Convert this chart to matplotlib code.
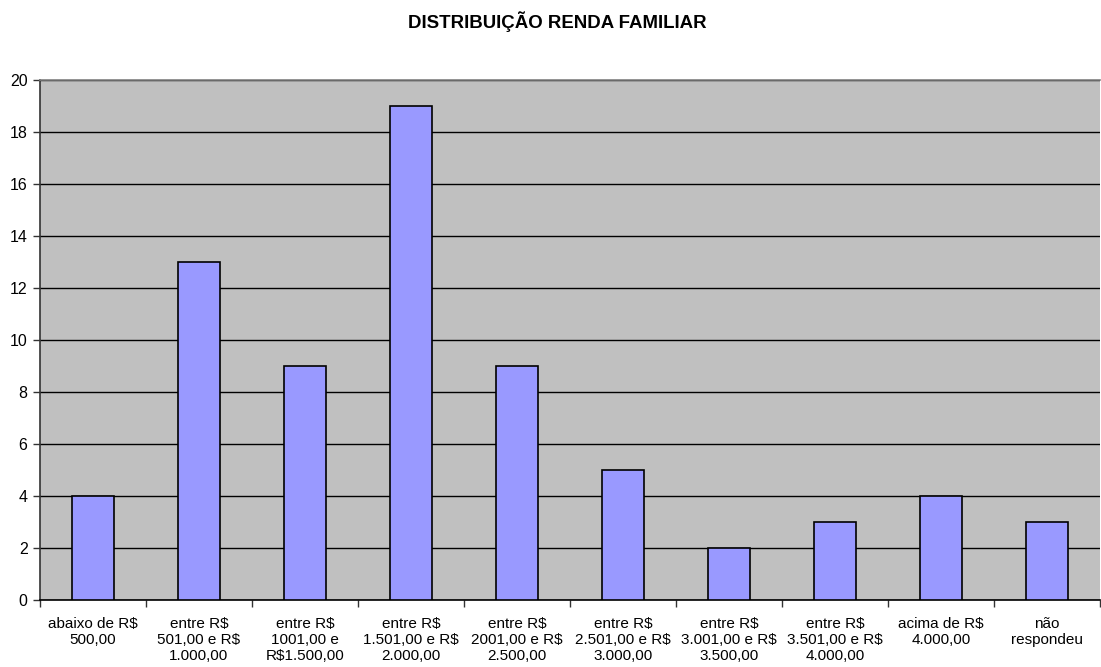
import numpy as np
import matplotlib.pyplot as plt

plt.rcParams['font.family'] = ['Liberation Sans', 'DejaVu Sans']

# Faixas de renda e numero de respostas
faixas = [
    "abaixo de R$\n500,00",
    "entre R$\n501,00 e R$\n1.000,00",
    "entre R$\n1001,00 e\nR$1.500,00",
    "entre R$\n1.501,00 e R$\n2.000,00",
    "entre R$\n2001,00 e R$\n2.500,00",
    "entre R$\n2.501,00 e R$\n3.000,00",
    "entre R$\n3.001,00 e R$\n3.500,00",
    "entre R$\n3.501,00 e R$\n4.000,00",
    "acima de R$\n4.000,00",
    "não\nrespondeu",
]
respostas = [4, 13, 9, 19, 9, 5, 2, 3, 4, 3]
yticks = [0, 2, 4, 6, 8, 10, 12, 14, 16, 18, 20]

fig = plt.figure(figsize=(11.01, 6.67), dpi=100)
ax = fig.add_axes([40 / 1101, 67 / 667, 1060 / 1101, 520.5 / 667])
ax.set_facecolor('#C0C0C0')

x = np.arange(len(faixas))
ax.bar(x, respostas, width=0.4, color='#9999FF', edgecolor='black',
       linewidth=1.2, zorder=3)

ax.set_xlim(-0.5, len(faixas) - 0.5)
ax.set_ylim(0, 20)
ax.set_yticks(yticks)
ax.yaxis.grid(True, color='black', linewidth=1.0, zorder=1)
ax.set_axisbelow(True)

# ticks nas divisas entre categorias, rotulos no centro
ax.set_xticks(np.arange(len(faixas) + 1) - 0.5)
ax.set_xticklabels([])
ax.set_xticks(x, minor=True)
ax.set_xticklabels(faixas, minor=True, fontsize=11, va='top', linespacing=1.2)
ax.tick_params(axis='x', which='minor', length=0, pad=12)
ax.tick_params(axis='x', which='major', length=5, width=1, color='#333333')
ax.tick_params(axis='y', length=5, width=1, color='#333333', labelsize=11.5, pad=4)

ax.spines['right'].set_visible(False)
ax.spines['top'].set_color('#808080')
ax.spines['left'].set_color('#333333')
ax.spines['bottom'].set_color('black')
for s in ax.spines.values():
    s.set_linewidth(1.2)

fig.text(557 / 1101, 1 - 22 / 667, "DISTRIBUIÇÃO RENDA FAMILIAR", ha='center',
         va='center', fontsize=13.4, fontweight='bold')

fig.savefig('out.png', dpi=100)
